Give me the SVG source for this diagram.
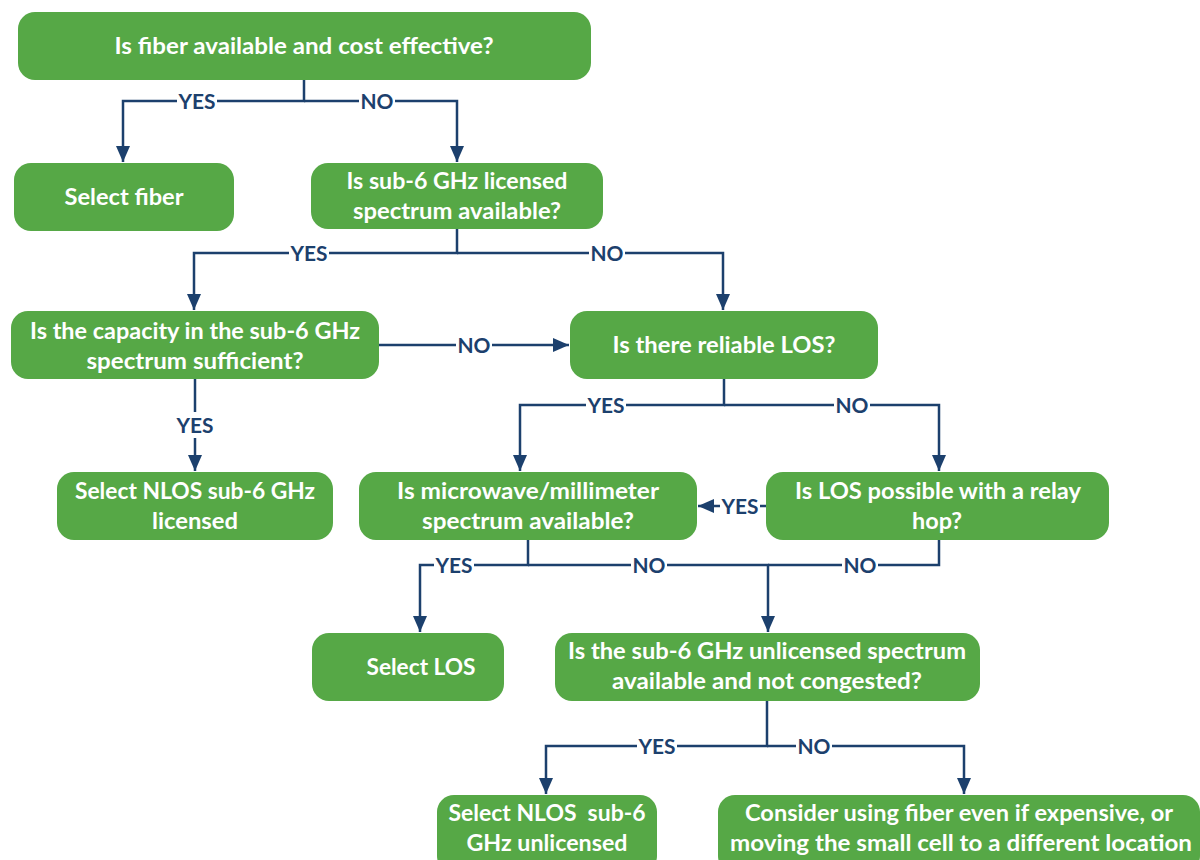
<svg xmlns="http://www.w3.org/2000/svg" width="1200" height="860" viewBox="0 0 1200 860">
<style>
.box{fill:#56A846;}
.t{font-family:Lato,"Open Sans","Liberation Sans",sans-serif;font-weight:bold;font-size:22px;fill:#ffffff;text-anchor:middle;}
.c{fill:none;stroke:#1C406D;stroke-width:2.5;}
.lb{font-family:Lato,"Open Sans","Liberation Sans",sans-serif;font-weight:bold;font-size:21px;fill:#1C406D;text-anchor:middle;}
.bg{fill:#ffffff;}
</style>
<defs>
<marker id="ah" markerUnits="userSpaceOnUse" viewBox="0 0 16 14" refX="16" refY="7" markerWidth="16" markerHeight="14" orient="auto">
<path d="M0,0 L16,7 L0,14 z" fill="#1C406D"/>
</marker>
</defs>
<rect width="1200" height="860" fill="#ffffff"/>
<g id="connectors">
<path class="c" d="M304,80 V101 H123 V162" marker-end="url(#ah)"/>
<path class="c" d="M304,101 H457 V162" marker-end="url(#ah)"/>
<path class="c" d="M457,229 V253 H194 V310" marker-end="url(#ah)"/>
<path class="c" d="M457,253 H723 V310" marker-end="url(#ah)"/>
<path class="c" d="M379,345 H569" marker-end="url(#ah)"/>
<path class="c" d="M195,379 V471" marker-end="url(#ah)"/>
<path class="c" d="M724,379 V405 H520 V471" marker-end="url(#ah)"/>
<path class="c" d="M724,405 H939 V471" marker-end="url(#ah)"/>
<path class="c" d="M766,506 H698" marker-end="url(#ah)"/>
<path class="c" d="M528,540 V565 H420 V632" marker-end="url(#ah)"/>
<path class="c" d="M528,565 H768 V632" marker-end="url(#ah)"/>
<path class="c" d="M939,540 V565 H768"/>
<path class="c" d="M767,701 V746 H546 V794" marker-end="url(#ah)"/>
<path class="c" d="M767,746 H964 V794" marker-end="url(#ah)"/>
<g id="labels">
<rect class="bg" x="177" y="91" width="40" height="20"/><text class="lb" x="197" y="108.5" textLength="37" lengthAdjust="spacingAndGlyphs">YES</text>
<rect class="bg" x="359" y="91" width="36" height="20"/><text class="lb" x="377" y="108.5" textLength="33" lengthAdjust="spacingAndGlyphs">NO</text>
<rect class="bg" x="289" y="243" width="40" height="20"/><text class="lb" x="309" y="260.5" textLength="37" lengthAdjust="spacingAndGlyphs">YES</text>
<rect class="bg" x="589" y="243" width="36" height="20"/><text class="lb" x="607" y="260.5" textLength="33" lengthAdjust="spacingAndGlyphs">NO</text>
<rect class="bg" x="456" y="335" width="36" height="20"/><text class="lb" x="474" y="352.5" textLength="33" lengthAdjust="spacingAndGlyphs">NO</text>
<rect class="bg" x="174" y="412" width="42" height="26"/><text class="lb" x="195" y="433" textLength="37" lengthAdjust="spacingAndGlyphs">YES</text>
<rect class="bg" x="586" y="395" width="40" height="20"/><text class="lb" x="606" y="412.5" textLength="37" lengthAdjust="spacingAndGlyphs">YES</text>
<rect class="bg" x="834" y="395" width="36" height="20"/><text class="lb" x="852" y="412.5" textLength="33" lengthAdjust="spacingAndGlyphs">NO</text>
<rect class="bg" x="720" y="496" width="40" height="20"/><text class="lb" x="740" y="513.5" textLength="37" lengthAdjust="spacingAndGlyphs">YES</text>
<rect class="bg" x="434" y="555" width="40" height="20"/><text class="lb" x="454" y="572.5" textLength="37" lengthAdjust="spacingAndGlyphs">YES</text>
<rect class="bg" x="631" y="555" width="36" height="20"/><text class="lb" x="649" y="572.5" textLength="33" lengthAdjust="spacingAndGlyphs">NO</text>
<rect class="bg" x="842" y="555" width="36" height="20"/><text class="lb" x="860" y="572.5" textLength="33" lengthAdjust="spacingAndGlyphs">NO</text>
<rect class="bg" x="637" y="736" width="40" height="20"/><text class="lb" x="657" y="753.5" textLength="37" lengthAdjust="spacingAndGlyphs">YES</text>
<rect class="bg" x="796" y="736" width="36" height="20"/><text class="lb" x="814" y="753.5" textLength="33" lengthAdjust="spacingAndGlyphs">NO</text>
</g>
</g>
<g id="n1"><rect class="box" x="18" y="12" width="573" height="68" rx="17"/><text class="t" x="304" y="54" textLength="379" lengthAdjust="spacingAndGlyphs">Is fiber available and cost effective?</text></g>
<g id="n2"><rect class="box" x="14" y="163" width="220" height="68" rx="17"/><text class="t" x="124" y="205" textLength="119" lengthAdjust="spacingAndGlyphs">Select fiber</text></g>
<g id="n3"><rect class="box" x="311" y="163" width="292" height="66" rx="17"/><text class="t" x="457" y="189" textLength="221" lengthAdjust="spacingAndGlyphs">Is sub-6 GHz licensed</text><text class="t" x="457" y="219" textLength="208" lengthAdjust="spacingAndGlyphs">spectrum available?</text></g>
<g id="n4"><rect class="box" x="11" y="311" width="368" height="68" rx="17"/><text class="t" x="195" y="339" textLength="330" lengthAdjust="spacingAndGlyphs">Is the capacity in the sub-6 GHz</text><text class="t" x="195" y="369" textLength="217" lengthAdjust="spacingAndGlyphs">spectrum sufficient?</text></g>
<g id="n5"><rect class="box" x="570" y="311" width="308" height="68" rx="17"/><text class="t" x="724" y="353" textLength="223" lengthAdjust="spacingAndGlyphs">Is there reliable LOS?</text></g>
<g id="n6"><rect class="box" x="57" y="472" width="276" height="68" rx="17"/><text class="t" x="195" y="499" textLength="240" lengthAdjust="spacingAndGlyphs">Select NLOS sub-6 GHz</text><text class="t" x="195" y="529" textLength="86" lengthAdjust="spacingAndGlyphs">licensed</text></g>
<g id="n7"><rect class="box" x="359" y="472" width="338" height="68" rx="17"/><text class="t" x="528" y="499" textLength="262" lengthAdjust="spacingAndGlyphs">Is microwave/millimeter</text><text class="t" x="528" y="529" textLength="212" lengthAdjust="spacingAndGlyphs">spectrum available?</text></g>
<g id="n8"><rect class="box" x="766" y="472" width="343" height="68" rx="17"/><text class="t" x="938" y="499" textLength="286" lengthAdjust="spacingAndGlyphs">Is LOS possible with a relay</text><text class="t" x="937" y="529" textLength="50" lengthAdjust="spacingAndGlyphs">hop?</text></g>
<g id="n9"><rect class="box" x="312" y="633" width="192" height="68" rx="17"/><text class="t" x="421" y="675" textLength="109" lengthAdjust="spacingAndGlyphs">Select LOS</text></g>
<g id="n10"><rect class="box" x="555" y="633" width="425" height="68" rx="17"/><text class="t" x="767" y="659" textLength="398" lengthAdjust="spacingAndGlyphs">Is the sub-6 GHz unlicensed spectrum</text><text class="t" x="767" y="689" textLength="310" lengthAdjust="spacingAndGlyphs">available and not congested?</text></g>
<g id="n11"><rect class="box" x="437" y="795" width="220" height="78" rx="17"/><text class="t" x="547" y="821" textLength="197" lengthAdjust="spacingAndGlyphs" xml:space="preserve">Select NLOS  sub-6</text><text class="t" x="547" y="851" textLength="161" lengthAdjust="spacingAndGlyphs">GHz unlicensed</text></g>
<g id="n12"><rect class="box" x="718" y="795" width="482" height="78" rx="17"/><text class="t" x="959" y="821" textLength="428" lengthAdjust="spacingAndGlyphs">Consider using fiber even if expensive, or</text><text class="t" x="961" y="851" textLength="462" lengthAdjust="spacingAndGlyphs">moving the small cell to a different location</text></g>
</svg>
